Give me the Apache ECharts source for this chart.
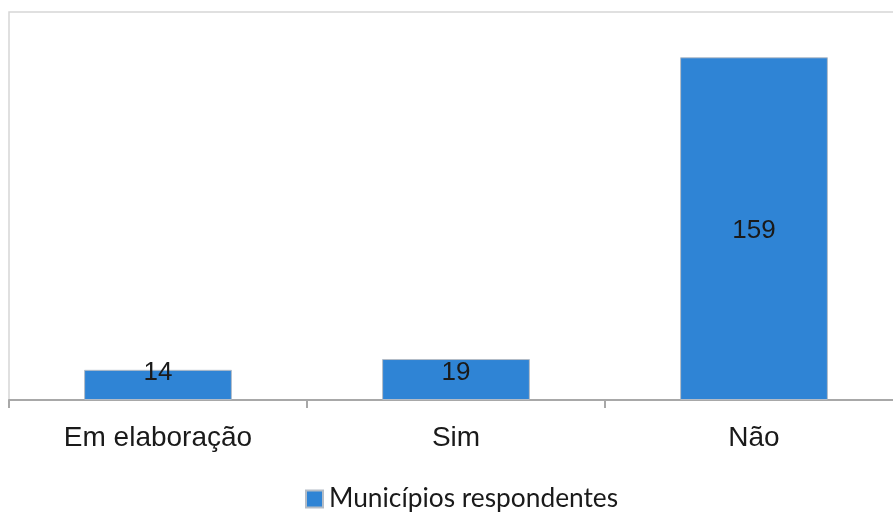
<!DOCTYPE html>
<html>
<head>
<meta charset="utf-8">
<script src="https://cdn.jsdelivr.net/npm/echarts@6/dist/echarts.min.js"></script>
<style>
  html, body { margin: 0; padding: 0; background: #ffffff; }
  #chart { width: 893px; height: 512px; }
</style>
</head>
<body>
<div id="chart"></div>
<script>
// Categories and counts of responding municipalities
const categories = ['Em elaboração', 'Sim', 'Não'];
const values = [14, 19, 159];
const seriesName = 'Municípios respondentes';
const yMax = 180;

const barColor = '#2F84D5';

// Short bars get their label lifted to sit near the bar top
const seriesData = values.map(function (v) {
  if (v < 40) {
    return { value: v, label: { position: 'insideBottom', distance: 14, offset: [0, 0] } };
  }
  return { value: v };
});

const chart = echarts.init(document.getElementById('chart'), null, { renderer: 'canvas' });

chart.setOption({
  backgroundColor: '#ffffff',
  animation: false,
  grid: {
    left: 9,
    width: 894,
    top: 12,
    bottom: 112,
    show: true,
    borderColor: '#d6d6d6',
    borderWidth: 1.5,
    outerBoundsMode: 'none',
    containLabel: false
  },
  legend: {
    data: [seriesName],
    left: 305,
    top: 486,
    padding: 0,
    icon: 'rect',
    itemWidth: 17,
    itemHeight: 17,
    itemGap: 10,
    textStyle: {
      fontFamily: 'Lato, "Open Sans", sans-serif',
      fontSize: 26.3,
      color: '#1a1a1a',
      padding: [0, 0, 0, 1]
    }
  },
  xAxis: {
    type: 'category',
    data: categories,
    axisLine: { show: true, lineStyle: { color: '#a8a8a8', width: 2 } },
    axisTick: { show: true, length: 8, lineStyle: { color: '#a8a8a8', width: 2 } },
    axisLabel: {
      margin: 24,
      fontFamily: '"Liberation Sans", Arial, sans-serif',
      fontSize: 28,
      color: '#1a1a1a'
    }
  },
  yAxis: {
    type: 'value',
    min: 0,
    max: yMax,
    show: false,
    splitLine: { show: false }
  },
  series: [{
    name: seriesName,
    type: 'bar',
    data: seriesData,
    barWidth: '49.6%',
    itemStyle: {
      color: barColor,
      borderColor: '#b4bcc6',
      borderWidth: 1
    },
    label: {
      show: true,
      position: 'inside',
      offset: [0, 2],
      fontFamily: '"Liberation Sans", Arial, sans-serif',
      fontSize: 26,
      color: '#1a1a1a'
    }
  }]
});
</script>
</body>
</html>
